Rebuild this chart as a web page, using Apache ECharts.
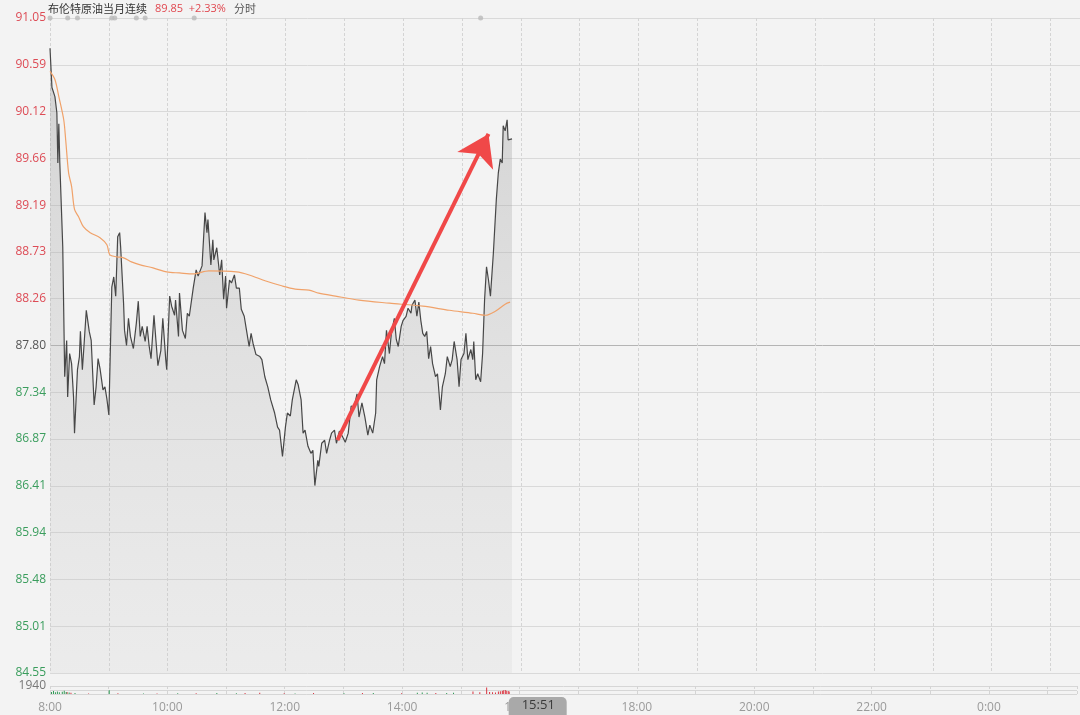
<!DOCTYPE html>
<html>
<head>
<meta charset="utf-8">
<script src="https://cdn.jsdelivr.net/npm/echarts@6/dist/echarts.min.js"></script>
<style>
html,body{margin:0;padding:0;background:#f3f3f3;}
#main{width:1080px;height:715px;}
</style>
</head>
<body>
<div id="main"></div>
<script>
// ---- data ----
const instrumentName = '布伦特原油当月连续';
const lastPrice = '89.85';
const changePct = '+2.33%';
const modeLabel = '分时';
const prevClose = 87.80;
const yMin = 84.55, yMax = 91.05;
const priceTicks = ['84.55','85.01','85.48','85.94','86.41','86.87','87.34','87.80','88.26','88.73','89.19','89.66','90.12','90.59','91.05'];
const timeLabels = ['8:00','10:00','12:00','14:00','16:00','18:00','20:00','22:00','0:00'];
const cursorLabel = '15:51';
const lastMinute = 471;

// minutes after 8:00
const priceMinutes = [0,2,3,5,7,8,9,10,13,15,17,18,20,22,24,25,28,30,31,33,35,37,40,42,45,47,49,51,53,54,56,58,60,63,65,67,69,71,72,75,76,78,80,82,85,88,90,92,94,97,99,101,103,106,108,110,113,115,118,119,122,124,127,128,131,132,135,138,140,142,146,149,151,155,158,160,161,164,166,167,170,173,175,177,179,180,183,185,188,190,193,195,198,200,203,205,207,210,214,216,219,222,225,229,232,234,237,240,242,245,247,251,253,256,258,260,263,266,268,270,273,274,277,280,282,285,287,290,292,295,298,301,304,307,310,313,315,318,321,324,326,329,332,333,336,339,341,343,346,348,351,353,355,358,360,363,365,368,369,372,374,376,378,380,382,384,386,388,390,393,395,398,400,403,405,408,410,412,415,417,419,422,424,426,429,431,432,434,436,439,441,443,445,447,449,451,452,455,457,459,461,462,464,466,467,469,471];
const prices = [90.75,90.36,90.37,90.27,90.11,89.61,90.00,89.61,88.78,87.49,87.85,87.29,87.72,87.62,87.29,86.93,87.56,87.69,87.94,87.56,87.85,88.15,87.94,87.85,87.21,87.39,87.67,87.57,87.56,87.36,87.39,87.27,87.11,88.38,88.48,88.29,88.88,88.92,88.78,88.22,87.95,87.80,88.07,87.89,87.77,88.02,88.24,87.89,87.99,87.84,87.99,87.80,87.67,88.10,87.85,87.60,87.75,88.07,87.66,87.56,88.29,88.19,88.10,88.25,87.89,88.32,87.95,87.87,88.12,88.09,88.37,88.55,88.49,88.59,89.12,88.92,89.05,88.60,88.85,88.65,88.77,88.50,88.65,88.26,88.49,88.17,88.45,88.42,88.50,88.37,88.37,88.16,88.09,87.97,87.79,87.92,87.82,87.71,87.69,87.66,87.49,87.39,87.26,87.13,86.99,86.96,86.70,86.99,87.13,87.10,87.26,87.46,87.41,87.26,86.93,86.96,86.80,86.73,86.76,86.41,86.66,86.60,86.83,86.86,86.73,86.86,86.93,86.96,86.83,86.95,86.90,86.84,86.93,87.20,87.19,87.32,87.09,87.23,87.09,86.91,87.01,86.93,87.13,87.46,87.59,87.69,87.62,87.95,87.72,87.92,88.07,87.86,87.79,87.99,88.05,88.09,88.17,88.12,88.20,88.25,88.09,88.23,88.05,87.92,87.89,87.94,87.67,87.79,87.62,87.49,87.52,87.16,87.39,87.52,87.69,87.59,87.66,87.84,87.66,87.39,87.66,87.72,87.92,87.66,87.76,87.66,87.84,87.46,87.52,87.44,87.72,88.25,88.58,88.45,88.29,88.29,88.72,89.25,89.51,89.65,89.61,89.98,89.93,90.04,89.84,89.85,89.85];

const avgMinutes = [0,5,9,14,16,19,22,25,29,34,41,51,58,61,68,75,83,92,105,119,132,146,162,190,203,220,237,250,264,274,291,315,346,380,407,431,444,454,464,469];
const avgPrices  = [90.52,90.44,90.27,90.04,89.84,89.51,89.38,89.15,89.08,88.98,88.92,88.87,88.80,88.70,88.68,88.67,88.63,88.60,88.57,88.53,88.52,88.51,88.54,88.53,88.50,88.44,88.39,88.36,88.35,88.32,88.29,88.25,88.22,88.19,88.15,88.12,88.10,88.14,88.21,88.23];

const volMax = 1940;
const volRedMinutes = [18,22,40,70,110,150,200,215,240,270,320,360,395,433,440,447,450,453,456,459,461,463,464,466,467,469,470];
const volRed        = [500,300,150,200,150,200,250,300,200,250,250,200,250,600,400,1600,500,400,350,600,650,700,900,1000,800,700,600];
const volGreenMinutes = [1,3,5,7,9,12,14,16,19,25,60,95,130,170,190,250,300,330,375,380,385,405,412];
const volGreen        = [500,700,450,600,400,550,800,500,350,250,900,150,200,250,200,150,200,250,300,350,300,250,300];

const eventMinutes = [0,18,28,63,66,88,97,147,439];

const arrowFrom = [293, 86.86];
const arrowTo = [447, 89.90];

// ---- build ----
const zip = (a, b) => a.map((v, i) => [v, b[i]]);
const RED = '#dd4b55', GREEN = '#3a9d5d', GREY = '#555';

const splitColors = priceTicks.map(t => parseFloat(t) === prevClose ? '#b4b4b4' : '#d9d9d9');

const chart = echarts.init(document.getElementById('main'));
const option = {
  backgroundColor: '#f3f3f3',
  animation: false,
  textStyle: {fontFamily: '"Noto Sans CJK SC", "Open Sans", sans-serif'},
  title: {
    left: 48, top: 0, padding: 0,
    text: '{n|' + instrumentName + '}  {p|' + lastPrice + '  ' + changePct + '}  {t|' + modeLabel + '}',
    textStyle: {
      fontWeight: 'normal',
      rich: {
        n: {fontSize: 11, fontWeight: 'normal', color: '#333', fontFamily: '"Noto Sans CJK SC", sans-serif'},
        p: {fontSize: 11, fontWeight: 'normal', color: '#e0474f', fontFamily: '"Open Sans", sans-serif'},
        t: {fontSize: 11, fontWeight: 'normal', color: '#555', fontFamily: '"Noto Sans CJK SC", sans-serif'}
      }
    }
  },
  grid: [
    {left: 50, right: 0, top: 18, height: 655},
    {left: 50, right: 0, top: 686, height: 8}
  ],
  xAxis: [
    {type: 'value', gridIndex: 0, min: 0, max: 1050, interval: 60,
     axisLine: {show: false}, axisTick: {show: false}, axisLabel: {show: false},
     splitLine: {show: true, lineStyle: {color: '#d4d4d4', type: [3, 2], width: 1}}},
    {type: 'value', gridIndex: 1, min: 0, max: 1050, interval: 60,
     axisLine: {show: false}, axisTick: {show: false},
     axisLabel: {show: true, color: '#9a9a9a', fontSize: 12, margin: 8,
       fontFamily: '"Open Sans", sans-serif',
       formatter: v => (v % 120 === 0 && timeLabels[v / 120] !== undefined) ? timeLabels[v / 120] : ''},
     splitLine: {show: true, lineStyle: {color: '#d4d4d4', type: [3, 2], width: 1}}}
  ],
  yAxis: [
    {type: 'value', gridIndex: 0, min: yMin, max: yMax,
     axisLine: {show: false}, axisTick: {show: false}, axisLabel: {show: false}, splitLine: {show: false}},
    {type: 'category', gridIndex: 0, data: priceTicks, boundaryGap: false, position: 'left',
     axisLine: {show: false}, axisTick: {show: false},
     axisLabel: {interval: 0, margin: 4, fontSize: 12, fontFamily: '"Open Sans", sans-serif',
       color: v => { const n = parseFloat(v); return n > prevClose ? RED : (n < prevClose ? GREEN : GREY); }},
     splitLine: {show: true, interval: 0, lineStyle: {color: splitColors, width: 1}}},
    {type: 'value', gridIndex: 1, min: 0, max: volMax, interval: volMax / 2,
     axisLine: {show: false}, axisTick: {show: false},
     axisLabel: {show: true, color: '#777', fontSize: 12, margin: 4, fontFamily: '"Open Sans", sans-serif',
       formatter: v => v === volMax ? String(volMax) : ''},
     splitLine: {show: true, lineStyle: {color: '#d6d6d6', width: 1}}}
  ],
  series: [
    {
      name: '价格', type: 'line', xAxisIndex: 0, yAxisIndex: 0,
      data: zip(priceMinutes, prices), showSymbol: false, symbol: 'none',
      lineStyle: {color: '#474747', width: 1.2},
      areaStyle: {origin: 'start', color: new echarts.graphic.LinearGradient(0, 0, 0, 1, [
        {offset: 0, color: 'rgba(150,150,150,0.5)'},
        {offset: 1, color: 'rgba(200,200,200,0.25)'}
      ])},
      z: 3,
      markLine: {
        silent: true, animation: false,
        symbol: ['none', 'arrow'], symbolSize: 30,
        label: {show: false},
        lineStyle: {color: '#f04848', width: 4, type: 'solid', opacity: 1},
        data: [[{coord: arrowFrom}, {coord: arrowTo}]]
      }
    },
    {
      name: '均价', type: 'line', xAxisIndex: 0, yAxisIndex: 0,
      data: zip(avgMinutes, avgPrices), showSymbol: false, symbol: 'none', smooth: 0.3,
      lineStyle: {color: '#f0a26a', width: 1.2}, z: 4
    },
    {
      name: '事件', type: 'scatter', xAxisIndex: 0, yAxisIndex: 0,
      data: eventMinutes.map(m => [m, yMax]), symbolSize: 5,
      itemStyle: {color: '#b9b9b9'}, z: 5
    },
    {
      name: '成交量涨', type: 'bar', xAxisIndex: 1, yAxisIndex: 2,
      data: zip(volRedMinutes, volRed), barWidth: 1, itemStyle: {color: '#d9333f'}
    },
    {
      name: '成交量跌', type: 'bar', xAxisIndex: 1, yAxisIndex: 2,
      data: zip(volGreenMinutes, volGreen), barWidth: 1, itemStyle: {color: '#2e9a55'}
    }
  ]
};
chart.setOption(option);

const px = chart.convertToPixel({xAxisIndex: 1}, lastMinute);
chart.setOption({
  graphic: [
    {type: 'rect', z: 100, left: px - 2, top: 697,
     shape: {width: 58, height: 24, r: 5}, style: {fill: '#a9a9a9'}},
    {type: 'text', z: 101, left: px + 11, top: 699,
     style: {text: cursorLabel, fill: '#3a3a3a', font: '13px "Open Sans", sans-serif'}}
  ]
});
</script>
</body>
</html>
